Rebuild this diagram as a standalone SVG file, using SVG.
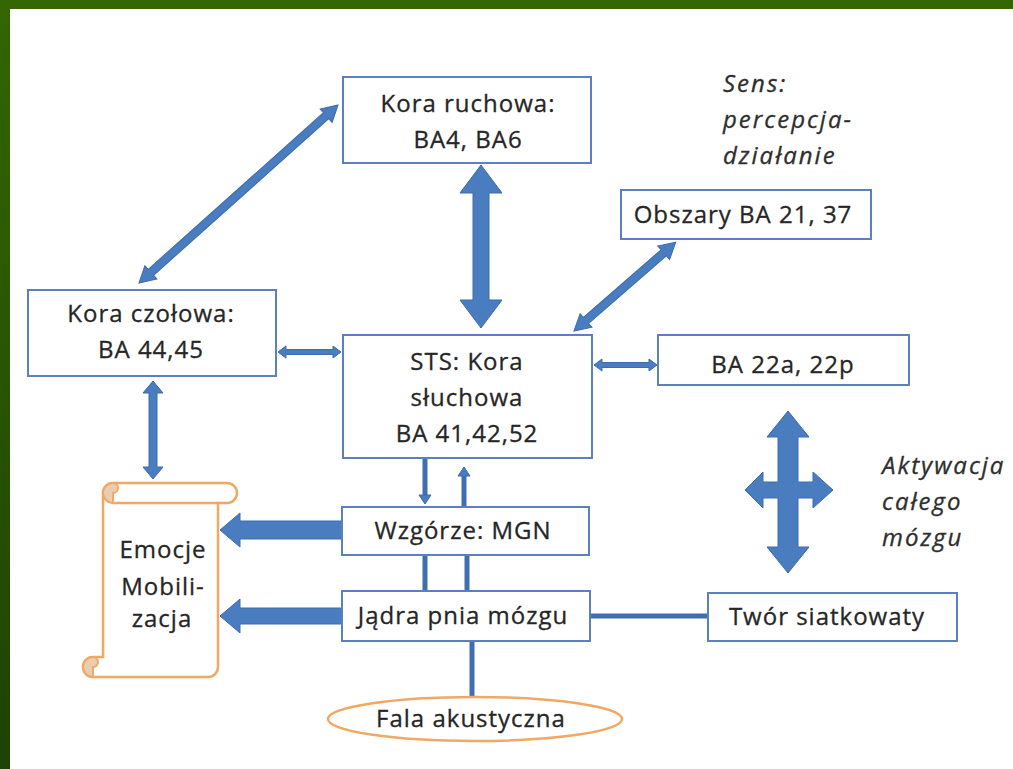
<svg xmlns="http://www.w3.org/2000/svg" width="1013" height="769" viewBox="0 0 1013 769">
  <defs>
    <linearGradient id="frameLeft" x1="0" y1="0" x2="0" y2="1">
      <stop offset="0" stop-color="#336600"/>
      <stop offset="1" stop-color="#1d4300"/>
    </linearGradient>
    <style>
      .box { fill: #ffffff; stroke: #5b7fbf; stroke-width: 2; }
      .lbl { font-family: "Open Sans", "Liberation Sans", sans-serif; font-size: 24px; letter-spacing: 1px; fill: #262626; stroke: #262626; stroke-width: 0.3; text-anchor: middle; }
      .note { font-family: "Open Sans", "Liberation Sans", sans-serif; font-size: 24px; letter-spacing: 2px; font-style: italic; fill: #2e2e2e; stroke: #2e2e2e; stroke-width: 0.3; }
      .arrow { fill: #4a7cc0; stroke: #3d6cad; stroke-width: 1; stroke-linejoin: miter; }
      .wire { stroke: #3f6fb0; stroke-width: 5; fill: none; }
      .scroll { fill: #ffffff; stroke: #f0a864; stroke-width: 2.5; }
      .curl { fill: #e9cdb0; stroke: #f0a864; stroke-width: 2; }
    </style>
  </defs>

  <!-- page frame -->
  <rect x="0" y="0" width="1013" height="769" fill="#ffffff"/>
  <rect x="0" y="0" width="1013" height="9" fill="#336600"/>
  <rect x="0" y="0" width="10" height="769" fill="url(#frameLeft)"/>

  <!-- connectors -->
  <g id="connectors">
    <!-- motor cortex <-> STS -->
    <polygon class="arrow" points="481,165 502,193 489,193 489,300 502,300 481,328 460,300 473,300 473,193 460,193"/>
    <!-- frontal cortex <-> motor cortex -->
    <polygon class="arrow" transform="translate(139 283) rotate(-41.8)" points="0,0 16,-9 16,-4 251,-4 251,-9 267,0 251,9 251,4 16,4 16,9"/>
    <!-- BA 21,37 <-> STS -->
    <polygon class="arrow" transform="translate(574 331) rotate(-41.1)" points="0,0 16,-9 16,-4 119,-4 119,-9 135,0 119,9 119,4 16,4 16,9"/>
    <!-- frontal cortex <-> STS -->
    <polygon class="arrow" points="278,352 286,346 286,349.5 333,349.5 333,346 341,352 333,358 333,354.5 286,354.5 286,358"/>
    <!-- STS <-> BA 22a, 22p -->
    <polygon class="arrow" points="594,365 602,359 602,362.5 649,362.5 649,359 657,365 649,371 649,367.5 602,367.5 602,371"/>
    <!-- frontal cortex <-> emotions -->
    <polygon class="arrow" points="153,381 163,393 157,393 157,467 163,467 153,479 143,467 149,467 149,393 143,393"/>
    <!-- STS -> thalamus, thalamus -> STS -->
    <line class="wire" x1="425" y1="459" x2="425" y2="497"/>
    <polygon class="arrow" points="419,495 431,495 425,504"/>
    <line class="wire" x1="464" y1="474" x2="464" y2="507"/>
    <polygon class="arrow" points="458,476 470,476 464,467"/>
    <!-- thalamus <-> brainstem -->
    <line class="wire" x1="425" y1="555" x2="425" y2="591"/>
    <line class="wire" x1="467" y1="555" x2="467" y2="591"/>
    <!-- brainstem <-> acoustic wave -->
    <line class="wire" x1="472" y1="641" x2="472" y2="698"/>
    <!-- brainstem <-> reticular formation -->
    <line class="wire" x1="590" y1="616" x2="708" y2="616" stroke-width="4"/>
    <!-- thalamus -> emotions -->
    <polygon class="arrow" points="220,530 240,513 240,521 342,521 342,539 240,539 240,547"/>
    <!-- brainstem -> emotions -->
    <polygon class="arrow" points="220,616 240,599 240,608 342,608 342,624 240,624 240,633"/>
    <!-- whole-brain activation -->
    <polygon class="arrow" points="788,411 809,437 798,437 798,482 813,482 813,472 833,490 813,508 813,498 798,498 798,547 809,547 788,573 767,547 778,547 778,498 763,498 763,508 745,490 763,472 763,482 778,482 778,437 767,437"/>
  </g>

  <g id="kora-ruchowa">
    <rect class="box" x="343" y="77" width="248" height="86"/>
    <text class="lbl" x="468" y="112">Kora ruchowa:</text>
    <text class="lbl" x="468" y="148">BA4, BA6</text>
  </g>

  <g id="kora-czolowa">
    <rect class="box" x="28" y="290" width="248" height="86"/>
    <text class="lbl" x="151" y="322">Kora czołowa:</text>
    <text class="lbl" x="151" y="358">BA 44,45</text>
  </g>

  <g id="sts">
    <rect class="box" x="343" y="335" width="249" height="123"/>
    <text class="lbl" x="467" y="370">STS: Kora</text>
    <text class="lbl" x="467" y="406">słuchowa</text>
    <text class="lbl" x="467" y="442">BA 41,42,52</text>
  </g>

  <g id="obszary">
    <rect class="box" x="621" y="190" width="250" height="49"/>
    <text class="lbl" x="743" y="223">Obszary BA 21, 37</text>
  </g>

  <g id="ba22">
    <rect class="box" x="658" y="335" width="251" height="50"/>
    <text class="lbl" x="783" y="373">BA 22a, 22p</text>
  </g>

  <g id="wzgorze">
    <rect class="box" x="342" y="507" width="247" height="48"/>
    <text class="lbl" x="463" y="539">Wzgórze: MGN</text>
  </g>

  <g id="jadra">
    <rect class="box" x="342" y="591" width="248" height="50"/>
    <text class="lbl" x="463" y="624">Jądra pnia mózgu</text>
  </g>

  <g id="twor">
    <rect class="box" x="708" y="593" width="249" height="48"/>
    <text class="lbl" x="827" y="625">Twór siatkowaty</text>
  </g>

  <g id="fala">
    <ellipse cx="475" cy="719" rx="147" ry="22" fill="#ffffff" stroke="#f0a864" stroke-width="2.5"/>
    <text class="lbl" x="471" y="727">Fala akustyczna</text>
  </g>

  <g id="emocje">
    <path class="scroll" d="M113 483 L227 483 A10 10 0 0 1 227 503 L218 503 L218 667 A10 10 0 0 1 208 677 L93 677 A10 10 0 0 1 93 657 L103 657 L103 493 A10 10 0 0 1 113 483 Z"/>
    <line x1="113" y1="503" x2="218" y2="503" stroke="#f0a864" stroke-width="2.5"/>
    <path class="curl" d="M113 503 A10 10 0 0 1 113 483 A5 5 0 0 1 113 493 Z"/>
    <path class="curl" d="M93 677 A10 10 0 0 1 93 657 A5 5 0 0 1 93 667 Z"/>
    <text class="lbl" x="163" y="558">Emocje</text>
    <text class="lbl" x="163" y="595">Mobili-</text>
    <text class="lbl" x="162" y="627">zacja</text>
  </g>

  <g id="notes">
    <text class="note" x="723" y="92">Sens:</text>
    <text class="note" x="723" y="128">percepcja-</text>
    <text class="note" x="723" y="164">działanie</text>
    <text class="note" x="882" y="474">Aktywacja</text>
    <text class="note" x="882" y="510">całego</text>
    <text class="note" x="882" y="546">mózgu</text>
  </g>
</svg>
